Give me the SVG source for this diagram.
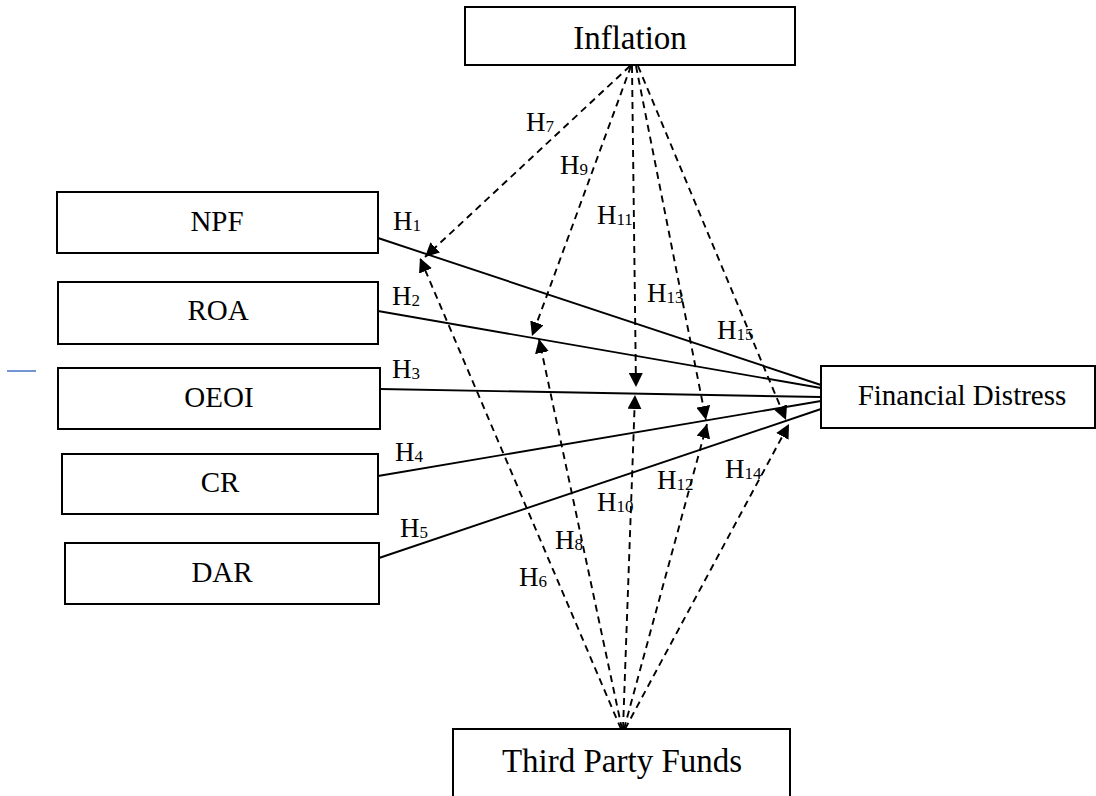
<svg xmlns="http://www.w3.org/2000/svg" width="1096" height="796" viewBox="0 0 1096 796">
<style>
.box{fill:#fff;stroke:#000;stroke-width:2}
.lbl{font-family:"Liberation Serif","Times New Roman",serif;font-size:29px;fill:#000;text-anchor:middle}
.big{font-family:"Liberation Serif","Times New Roman",serif;font-size:33px;fill:#000;text-anchor:middle}
.h{font-family:"Liberation Serif","Times New Roman",serif;font-size:27px;fill:#000}
.s{font-size:17px}
.solid{stroke:#000;stroke-width:1.9;fill:none}
.dash{stroke:#000;stroke-width:1.9;fill:none;stroke-dasharray:7 5;marker-end:url(#ah)}
</style>
<defs>
<marker id="ah" markerUnits="userSpaceOnUse" markerWidth="15" markerHeight="14" refX="14" refY="7" orient="auto">
<path d="M0,0 L14,7 L0,14 z" fill="#000" stroke="none"/>
</marker>
</defs>
<rect width="1096" height="796" fill="#fff"/>
<line x1="7" y1="371" x2="36" y2="371" stroke="#4472c4" stroke-width="1.5"/>
<g id="connectors">
<line class="solid" x1="378" y1="238" x2="821" y2="385"/>
<line class="solid" x1="378" y1="311" x2="821" y2="388"/>
<line class="solid" x1="380" y1="389" x2="821" y2="397"/>
<line class="solid" x1="378" y1="476" x2="821" y2="401"/>
<line class="solid" x1="379" y1="558" x2="821" y2="409"/>
<line class="dash" x1="630" y1="66" x2="425" y2="257"/>
<line class="dash" x1="631" y1="66" x2="532" y2="336"/>
<line class="dash" x1="632" y1="66" x2="636" y2="387"/>
<line class="dash" x1="636" y1="66" x2="706" y2="420"/>
<line class="dash" x1="638" y1="66" x2="786" y2="420"/>
<line class="dash" x1="621" y1="729" x2="420" y2="258"/>
<line class="dash" x1="622" y1="729" x2="539" y2="339"/>
<line class="dash" x1="623" y1="729" x2="635" y2="395"/>
<line class="dash" x1="624" y1="729" x2="707" y2="424"/>
<line class="dash" x1="625" y1="729" x2="789" y2="424"/>
</g>
<g id="labels">
<text class="h" x="393" y="230">H<tspan class="s" dy="1">1</tspan></text>
<text class="h" x="392" y="305">H<tspan class="s" dy="1">2</tspan></text>
<text class="h" x="392" y="378">H<tspan class="s" dy="1">3</tspan></text>
<text class="h" x="395" y="461">H<tspan class="s" dy="1">4</tspan></text>
<text class="h" x="400" y="537">H<tspan class="s" dy="1">5</tspan></text>
<text class="h" x="519" y="586">H<tspan class="s" dy="1">6</tspan></text>
<text class="h" x="526" y="131">H<tspan class="s" dy="1">7</tspan></text>
<text class="h" x="555" y="549">H<tspan class="s" dy="1">8</tspan></text>
<text class="h" x="560" y="174">H<tspan class="s" dy="1">9</tspan></text>
<text class="h" x="597" y="511">H<tspan class="s" dy="1">10</tspan></text>
<text class="h" x="597" y="224">H<tspan class="s" dy="1">11</tspan></text>
<text class="h" x="657" y="489">H<tspan class="s" dy="1">12</tspan></text>
<text class="h" x="647" y="302">H<tspan class="s" dy="1">13</tspan></text>
<text class="h" x="725" y="478">H<tspan class="s" dy="1">14</tspan></text>
<text class="h" x="717" y="339">H<tspan class="s" dy="1">15</tspan></text>
</g>
<g id="inflation">
<rect class="box" x="465" y="7" width="330" height="58"/>
<text class="big" x="630" y="49">Inflation</text>
</g>
<g id="npf">
<rect class="box" x="57" y="192" width="321" height="61"/>
<text class="lbl" x="217" y="231">NPF</text>
</g>
<g id="roa">
<rect class="box" x="58" y="282" width="320" height="62"/>
<text class="lbl" x="218" y="320">ROA</text>
</g>
<g id="oeoi">
<rect class="box" x="58" y="368" width="322" height="61"/>
<text class="lbl" x="219" y="407">OEOI</text>
</g>
<g id="cr">
<rect class="box" x="62" y="454" width="316" height="60"/>
<text class="lbl" x="220" y="492">CR</text>
</g>
<g id="dar">
<rect class="box" x="65" y="543" width="314" height="61"/>
<text class="lbl" x="222" y="582">DAR</text>
</g>
<g id="financial-distress">
<rect class="box" x="821" y="366" width="274" height="62"/>
<text class="lbl" x="962" y="405">Financial Distress</text>
</g>
<g id="third-party-funds">
<rect class="box" x="453" y="729" width="337" height="70"/>
<text class="big" x="622" y="772">Third Party Funds</text>
</g>
</svg>
